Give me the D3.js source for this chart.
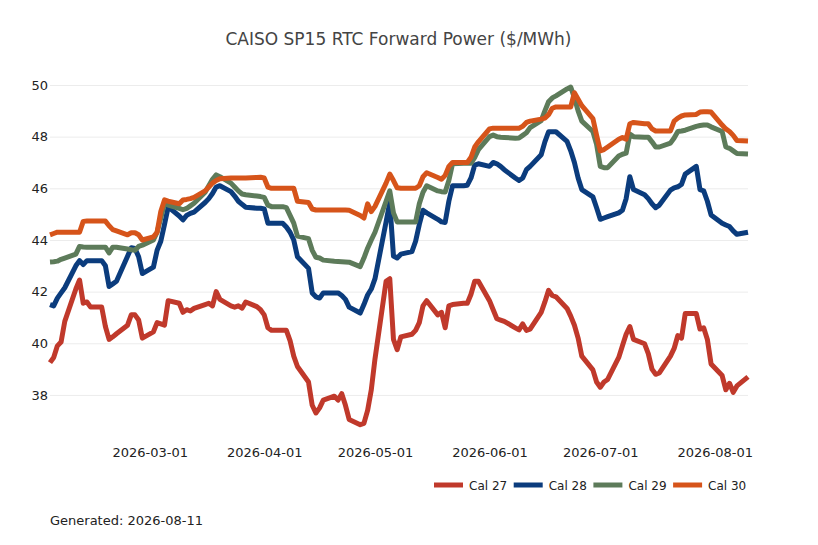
<!DOCTYPE html>
<html>
<head>
<meta charset="utf-8">
<script src="https://cdn.jsdelivr.net/npm/d3@7"></script>
<style>
  body { margin: 0; background: #fff; }
  svg text { font-family: "DejaVu Sans", sans-serif; }
</style>
</head>
<body>
<div id="chart"></div>
<script>
// Trading days on the x axis
const dates = [
  '2026-02-02','2026-02-03','2026-02-04','2026-02-05','2026-02-06',
  '2026-02-09','2026-02-10','2026-02-11','2026-02-12','2026-02-13',
  '2026-02-16','2026-02-17','2026-02-18','2026-02-19','2026-02-20',
  '2026-02-23','2026-02-24','2026-02-25','2026-02-26','2026-02-27',
  '2026-03-02','2026-03-03','2026-03-04','2026-03-05','2026-03-06',
  '2026-03-09','2026-03-10','2026-03-11','2026-03-12','2026-03-13',
  '2026-03-16','2026-03-17','2026-03-18','2026-03-19','2026-03-20',
  '2026-03-23','2026-03-24','2026-03-25','2026-03-26','2026-03-27',
  '2026-03-30','2026-03-31','2026-04-01','2026-04-02','2026-04-03',
  '2026-04-06','2026-04-07','2026-04-08','2026-04-09','2026-04-10',
  '2026-04-13','2026-04-14','2026-04-15','2026-04-16','2026-04-17',
  '2026-04-20','2026-04-21','2026-04-22','2026-04-23','2026-04-24',
  '2026-04-27','2026-04-28','2026-04-29','2026-04-30','2026-05-01',
  '2026-05-04','2026-05-05','2026-05-06','2026-05-07','2026-05-08',
  '2026-05-11','2026-05-12','2026-05-13','2026-05-14','2026-05-15',
  '2026-05-18','2026-05-19','2026-05-20','2026-05-21','2026-05-22',
  '2026-05-25','2026-05-26','2026-05-27','2026-05-28','2026-05-29',
  '2026-06-01','2026-06-02','2026-06-03','2026-06-04','2026-06-05',
  '2026-06-08','2026-06-09','2026-06-10','2026-06-11','2026-06-12',
  '2026-06-15','2026-06-16','2026-06-17','2026-06-18','2026-06-19',
  '2026-06-22','2026-06-23','2026-06-24','2026-06-25','2026-06-26',
  '2026-06-29','2026-06-30','2026-07-01','2026-07-02','2026-07-03',
  '2026-07-06','2026-07-07','2026-07-08','2026-07-09','2026-07-10',
  '2026-07-13','2026-07-14','2026-07-15','2026-07-16','2026-07-17',
  '2026-07-20','2026-07-21','2026-07-22','2026-07-23','2026-07-24',
  '2026-07-27','2026-07-28','2026-07-29','2026-07-30','2026-07-31',
  '2026-08-03','2026-08-04','2026-08-05','2026-08-06','2026-08-07',
  '2026-08-10'
]

const cal27 = [
  39.25, 39.45, 39.9, 40.05, 40.85,
  42.1, 42.45, 41.55, 41.6, 41.4,
  41.4, 40.65, 40.15, 40.25, 40.37,
  40.7, 41.1, 41.1, 40.9, 40.2,
  40.44, 40.8, 40.75, 40.7, 41.65,
  41.55, 41.2, 41.3, 41.25, 41.35,
  41.5, 41.55, 41.45, 42.0, 41.7,
  41.45, 41.4, 41.45, 41.36, 41.6,
  41.42, 41.3, 41.1, 40.6, 40.5,
  40.5, 40.5, 40.1, 39.5, 39.1,
  38.5, 37.6, 37.3, 37.5, 37.8,
  37.95, 37.8, 38.05, 37.6, 37.05,
  36.85, 36.9, 37.4, 38.2, 39.4,
  42.4, 42.5, 40.15, 39.75, 40.25,
  40.35, 40.5, 40.8, 41.45, 41.65,
  41.1, 41.2, 40.6, 41.45, 41.5,
  41.55, 41.55, 41.9, 42.4, 42.4,
  41.65, 41.3, 40.95, 40.9, 40.85,
  40.6, 40.52, 40.75, 40.5, 40.55,
  41.2, 41.6, 42.05, 41.85, 41.8,
  41.35, 41.05, 40.7, 40.2, 39.5,
  38.97, 38.5, 38.3, 38.5, 38.6,
  39.45, 39.9, 40.35, 40.65, 40.15,
  39.98, 39.6, 39.0, 38.8, 38.85,
  39.5, 39.8, 40.3, 40.2, 41.15,
  41.15, 40.55, 40.6, 40.15, 39.2,
  38.75, 38.2, 38.45, 38.1, 38.35,
  38.7
]

const cal28 = [
  41.5, 41.45, 41.75, 41.95, 42.15,
  43.0, 43.2, 43.05, 43.2, 43.2,
  43.2, 43.0, 42.2, 42.3, 42.4,
  43.37, 43.7, 43.67, 43.35, 42.7,
  42.95, 43.6, 43.95, 44.6, 45.28,
  44.93, 44.78, 44.95, 45.03, 45.08,
  45.45, 45.6, 45.8, 46.05, 46.1,
  45.87, 45.7, 45.5, 45.38, 45.27,
  45.23, 45.23, 45.2, 44.65, 44.65,
  44.65, 44.5, 44.3, 44.0, 43.35,
  42.9, 41.95, 41.8, 41.75, 41.95,
  41.95, 41.95, 41.85, 41.7, 41.4,
  41.17, 41.5, 41.87, 42.1, 42.5,
  44.7, 45.45, 43.38, 43.3, 43.45,
  43.55, 43.95, 44.6, 45.15, 45.05,
  44.8, 44.7, 44.68, 45.5, 46.1,
  46.1, 46.12, 46.4, 46.9, 46.95,
  46.85, 47.0, 46.95, 46.85, 46.72,
  46.4, 46.3, 46.4, 46.72, 46.85,
  47.3, 47.8, 48.19, 48.19, 48.19,
  47.82, 47.45, 47.0, 46.4, 45.95,
  45.67, 45.25, 44.8, 44.85, 44.9,
  45.05, 45.15, 45.6, 46.45, 45.95,
  45.75, 45.6, 45.4, 45.25, 45.35,
  45.93, 46.02, 46.06, 46.15, 46.55,
  46.85, 45.95, 45.9, 45.5, 44.97,
  44.65, 44.58, 44.52, 44.35, 44.22,
  44.3
]

const cal29 = [
  43.15, 43.16, 43.18, 43.25, 43.3,
  43.45, 43.75, 43.73, 43.72, 43.72,
  43.72, 43.72, 43.5, 43.72, 43.72,
  43.65, 43.62, 43.6, 43.75, 43.8,
  44.0, 44.3, 44.85, 45.42, 45.35,
  45.22, 45.17, 45.22, 45.32, 45.42,
  45.85, 46.1, 46.35, 46.52, 46.45,
  46.2, 46.05, 45.9, 45.78, 45.75,
  45.7, 45.68, 45.65, 45.35, 45.29,
  45.29, 45.25, 44.95, 44.65, 44.15,
  44.05, 43.6, 43.33, 43.3, 43.22,
  43.18, 43.17, 43.16, 43.15, 43.14,
  42.97, 43.3, 43.68, 44.0, 44.3,
  45.5, 45.9, 45.05, 44.7, 44.7,
  44.7, 44.7, 45.4, 45.85, 46.1,
  45.9, 45.87, 45.86, 46.3, 46.95,
  46.97, 46.97, 46.97, 47.2, 47.5,
  48.0, 48.06, 48.0, 47.98, 47.97,
  47.94, 47.95, 48.05, 48.15, 48.35,
  48.62, 49.0, 49.35, 49.5, 49.58,
  49.85, 49.92, 49.5, 49.0, 48.6,
  48.2, 47.7, 46.85, 46.8, 46.8,
  47.25, 47.32, 47.36, 48.1, 48.0,
  47.98, 47.98, 47.8, 47.6, 47.6,
  47.75, 47.95, 48.2, 48.22, 48.25,
  48.4, 48.43, 48.45, 48.45, 48.38,
  48.2, 47.6, 47.55, 47.45, 47.35,
  47.33
]

const cal30 = [
  44.2, 44.25, 44.3, 44.3, 44.3,
  44.3, 44.3, 44.72, 44.73, 44.73,
  44.73, 44.73, 44.55, 44.4, 44.35,
  44.2, 44.28, 44.28, 44.2, 44.0,
  44.12, 44.3, 45.1, 45.55, 45.5,
  45.4, 45.55, 45.57, 45.6, 45.65,
  45.9, 46.05, 46.2, 46.3, 46.37,
  46.4, 46.4, 46.4, 46.4, 46.4,
  46.42, 46.43, 46.4, 46.05, 46.0,
  46.0, 46.0, 46.0, 46.0, 45.5,
  45.45, 45.2, 45.16, 45.16, 45.16,
  45.16, 45.16, 45.16, 45.16, 45.15,
  44.95, 44.85, 45.4, 45.1, 45.3,
  46.2, 46.55, 46.3, 46.02, 46.0,
  46.0, 46.0, 46.1, 46.45, 46.6,
  46.42, 46.35, 46.5, 46.85, 47.0,
  47.0, 47.0, 47.2, 47.6, 47.8,
  48.3, 48.33, 48.33, 48.33, 48.33,
  48.33, 48.33, 48.4, 48.55, 48.6,
  48.68, 48.72, 48.85, 49.1, 49.15,
  49.15, 49.15, 49.7, 49.45, 49.2,
  48.7, 48.05, 47.45, 47.5, 47.6,
  47.9, 47.97, 47.9, 48.5, 48.55,
  48.5, 48.5, 48.3, 48.22, 48.22,
  48.22, 48.6, 48.72, 48.8, 48.84,
  48.86, 48.95, 48.96, 48.96, 48.95,
  48.45, 48.3, 48.2, 48.05, 47.85,
  47.83
]

const seriesNames = ['Cal 27', 'Cal 28', 'Cal 29', 'Cal 30']
const seriesValues = [cal27, cal28, cal29, cal30]
const seriesColours = ['#c0392b', '#0b3c7d', '#5d7b5a', '#d6541a']
const yTicks = [38, 40, 42, 44, 46, 48, 50]
const xTicks = ['2026-03-01', '2026-04-01', '2026-05-01', '2026-06-01', '2026-07-01', '2026-08-01']

function lineChart({
  selector = 'body',
  width = 818,
  height = 545,
  title = '',
  footer = '',
  lineWidth = 5
} = {}) {

  const parse = d3.timeParse('%Y-%m-%d')
  const fmt = d3.timeFormat('%Y-%m-%d')

  // plot area
  const left = 50, right = 748, top = 69.5, bottom = 431.1

  const svg = d3.select(selector)
    .append('svg')
    .attr('width', width)
    .attr('height', height)

  const xScale = d3.scaleTime()
    .domain([parse(dates[0]), parse(dates[dates.length - 1])])
    .range([left, right])
  const yScale = d3.scaleLinear().domain([36.6, 50.6]).range([bottom, top])

  // horizontal grid + y labels
  const yAxis = d3.axisLeft(yScale)
    .tickValues(yTicks)
    .tickSize(-(right - left))
    .tickPadding(2)
  const gy = svg.append('g')
    .attr('transform', `translate(${left},0)`)
    .call(yAxis)
  gy.select('.domain').remove()
  gy.selectAll('.tick line').attr('stroke', '#ececec').attr('stroke-width', 1)
  gy.selectAll('.tick text')
    .attr('x', -2)
    .style('font-size', '13px')
    .attr('fill', '#222')

  // x labels, no line
  const xAxis = d3.axisBottom(xScale)
    .tickValues(xTicks.map(parse))
    .tickFormat(fmt)
    .tickSize(0)
  const gx = svg.append('g')
    .attr('transform', `translate(0,${bottom + 14})`)
    .call(xAxis)
  gx.select('.domain').remove()
  gx.selectAll('.tick text')
    .style('font-size', '13px')
    .attr('fill', '#222')

  const line = d3.line()
    .x(d => xScale(d.date))
    .y(d => yScale(d.value))

  const data = seriesNames.map((name, i) => ({
    name: name,
    colour: seriesColours[i],
    values: dates.map((d, j) => ({ date: parse(d), value: seriesValues[i][j] }))
  }))

  svg.append('g').selectAll('path')
    .data(data)
    .enter()
    .append('path')
    .attr('d', d => line(d.values))
    .attr('fill', 'none')
    .attr('stroke', d => d.colour)
    .attr('stroke-width', lineWidth)
    .attr('stroke-linejoin', 'round')

  // title
  svg.append('text')
    .attr('x', 398.5)
    .attr('y', 45)
    .attr('text-anchor', 'middle')
    .style('font-size', '17px')
    .attr('fill', '#444')
    .text(title)

  // legend
  const legend = svg.append('g')
    .attr('transform', 'translate(434,485)')
  const items = legend.selectAll('g')
    .data(data)
    .enter()
    .append('g')
    .attr('transform', (d, i) => `translate(${i * 79.7},0)`)
  items.append('line')
    .attr('x1', 0).attr('x2', 29)
    .attr('y1', 0).attr('y2', 0)
    .attr('stroke', d => d.colour)
    .attr('stroke-width', lineWidth)
  items.append('text')
    .attr('x', 35)
    .attr('y', 4.5)
    .style('font-size', '12px')
    .attr('fill', '#222')
    .text(d => d.name)

  // footer
  svg.append('text')
    .attr('x', 50)
    .attr('y', 525)
    .style('font-size', '13px')
    .attr('fill', '#222')
    .text(footer)

  return svg
}

lineChart({
  selector: '#chart',
  title: 'CAISO SP15 RTC Forward Power ($/MWh)',
  footer: 'Generated: 2026-08-11'
})
</script>
</body>
</html>
